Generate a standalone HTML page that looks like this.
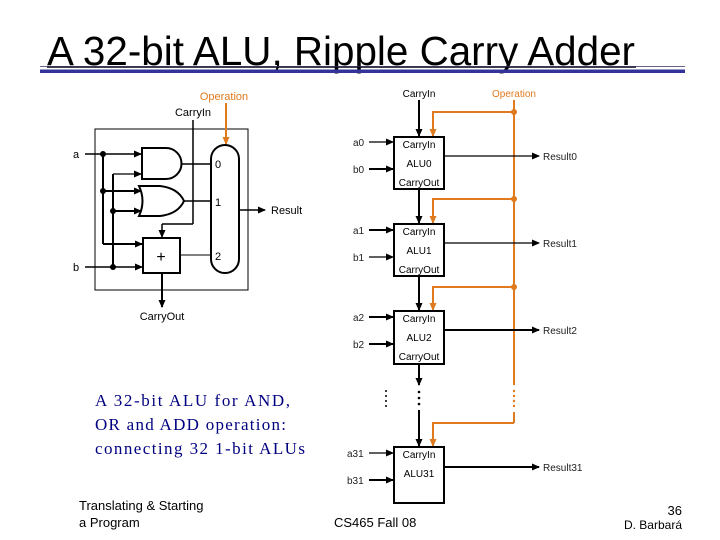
<!DOCTYPE html>
<html><head><style>
body{margin:0;background:#fff;}
svg{display:block;font-family:"Liberation Sans",Arial,sans-serif;}
</style></head><body>
<svg width="720" height="540" viewBox="0 0 720 540" xmlns="http://www.w3.org/2000/svg">
<defs>
<marker id="ar" markerWidth="8" markerHeight="8" refX="7" refY="4" orient="auto" markerUnits="userSpaceOnUse"><path d="M0,0.5 L8,4 L0,7.5z" fill="#000"/></marker>
<marker id="ao" markerWidth="8" markerHeight="8" refX="7" refY="4" orient="auto" markerUnits="userSpaceOnUse"><path d="M0,0.5 L8,4 L0,7.5z" fill="#e07a1f"/></marker>
</defs>
<text x="47" y="65" font-size="41" textLength="588" lengthAdjust="spacingAndGlyphs">A 32-bit ALU, Ripple Carry Adder</text>
<line x1="47" y1="67" x2="636" y2="67" stroke="#000" stroke-width="1.5"/>
<line x1="40" y1="66.5" x2="685" y2="66.5" stroke="#333366" stroke-width="0.8"/>
<rect x="40" y="69.5" width="645" height="3.5" fill="#333399"/>

<g stroke="#000" fill="none" stroke-width="1">
<rect x="95" y="129" width="153" height="161"/>
</g>
<text x="224" y="100" font-size="11" fill="#e07a1f" text-anchor="middle">Operation</text>
<text x="193" y="116" font-size="11" text-anchor="middle">CarryIn</text>
<line x1="226" y1="103" x2="226" y2="144" stroke="#e07a1f" stroke-width="2" marker-end="url(#ao)"/>
<text x="73" y="158" font-size="11">a</text>
<text x="73" y="271" font-size="11">b</text>
<g stroke="#000" stroke-width="2" fill="none">
<line x1="85" y1="154" x2="141" y2="154" stroke-width="1.5" marker-end="url(#ar)"/>
<line x1="103" y1="154" x2="103" y2="244"/>
<line x1="103" y1="191" x2="141" y2="191" marker-end="url(#ar)"/>
<line x1="103" y1="244" x2="142" y2="244" marker-end="url(#ar)"/>
<line x1="85" y1="267" x2="142" y2="267" stroke-width="1.5" marker-end="url(#ar)"/>
<line x1="113" y1="267" x2="113" y2="174"/>
<line x1="113" y1="174" x2="141" y2="174" stroke-width="1.2" marker-end="url(#ar)"/>
<line x1="113" y1="211" x2="141" y2="211" marker-end="url(#ar)"/>
<path d="M142,148 L166,148 A15.5,15.5 0 0 1 166,179 L142,179 Z" stroke-width="2"/>
<path d="M139,186 L160,186 Q178,188 184,201 Q178,214 160,216 L139,216 Q146,201 139,186 Z" stroke-width="2"/>
<rect x="143" y="238" width="37" height="35" stroke-width="2"/>
<line x1="182" y1="164" x2="211" y2="164" stroke-width="1.5"/>
<line x1="184" y1="201" x2="211" y2="201" stroke-width="1.5"/>
<line x1="180" y1="255" x2="211" y2="255" stroke-width="1"/>
<rect x="211" y="145" width="28" height="128" rx="14" stroke-width="2"/>
<line x1="193" y1="120" x2="193" y2="224" stroke-width="1.5"/>
<line x1="193" y1="224" x2="162" y2="224" stroke-width="1.5"/>
<line x1="162" y1="224" x2="162" y2="237" stroke-width="1.5" marker-end="url(#ar)"/>
<line x1="162" y1="273" x2="162" y2="307" marker-end="url(#ar)"/>
<line x1="239" y1="210" x2="265" y2="210" stroke-width="1.5" marker-end="url(#ar)"/>
</g>
<g fill="#000"><circle cx="103" cy="154" r="3"/><circle cx="103" cy="191" r="3"/><circle cx="113" cy="211" r="3"/><circle cx="113" cy="267" r="3"/></g>
<text x="161" y="262" font-size="16" text-anchor="middle">+</text>
<g font-size="11"><text x="215" y="168">0</text><text x="215" y="206">1</text><text x="215" y="260">2</text>
<text x="271" y="214">Result</text><text x="162" y="320" text-anchor="middle">CarryOut</text></g>

<text x="419" y="97" font-size="10" text-anchor="middle">CarryIn</text>
<text x="514" y="97" font-size="10" fill="#e07a1f" text-anchor="middle">Operation</text>
<g stroke="#e07a1f" stroke-width="2" fill="none">
<line x1="514" y1="100" x2="514" y2="385"/>
<line x1="514" y1="412" x2="514" y2="423"/>
<path d="M514,112 H433 V136" marker-end="url(#ao)"/>
<path d="M514,199 H433 V223" marker-end="url(#ao)"/>
<path d="M514,287 H433 V310" marker-end="url(#ao)"/>
<path d="M514,423 H433 V446" marker-end="url(#ao)"/>
</g>
<g fill="#e07a1f"><circle cx="514" cy="112" r="3"/><circle cx="514" cy="199" r="3"/><circle cx="514" cy="287" r="3"/>
<circle cx="514" cy="391" r="1.2"/><circle cx="514" cy="396" r="1.2"/><circle cx="514" cy="401" r="1.2"/><circle cx="514" cy="406" r="1.2"/></g>
<g stroke="#000" fill="#fff" stroke-width="2">
<rect x="394" y="137" width="50" height="52"/>
<rect x="394" y="224" width="50" height="52"/>
<rect x="394" y="311" width="50" height="53"/>
<rect x="394" y="447" width="50" height="56"/>
</g>
<g stroke="#000" stroke-width="2" fill="none">
<line x1="419" y1="100" x2="419" y2="136" marker-end="url(#ar)"/>
<line x1="419" y1="189" x2="419" y2="223" marker-end="url(#ar)"/>
<line x1="419" y1="276" x2="419" y2="310" marker-end="url(#ar)"/>
<line x1="419" y1="364" x2="419" y2="385" marker-end="url(#ar)"/>
<line x1="419" y1="410" x2="419" y2="446" marker-end="url(#ar)"/>
<g stroke-width="1.2">
<line x1="369" y1="142" x2="393" y2="142" marker-end="url(#ar)"/>
<line x1="369" y1="169" x2="393" y2="169" stroke-width="2" marker-end="url(#ar)"/>
<line x1="369" y1="230" x2="393" y2="230" stroke-width="2" marker-end="url(#ar)"/>
<line x1="369" y1="257" x2="393" y2="257" marker-end="url(#ar)"/>
<line x1="369" y1="317" x2="393" y2="317" stroke-width="2" marker-end="url(#ar)"/>
<line x1="369" y1="344" x2="393" y2="344" stroke-width="2" marker-end="url(#ar)"/>
<line x1="369" y1="453" x2="393" y2="453" marker-end="url(#ar)"/>
<line x1="369" y1="480" x2="393" y2="480" stroke-width="2" marker-end="url(#ar)"/>
<line x1="444" y1="156" x2="539" y2="156" marker-end="url(#ar)"/>
<line x1="444" y1="243" x2="539" y2="243" marker-end="url(#ar)"/>
<line x1="444" y1="330" x2="539" y2="330" stroke-width="2" marker-end="url(#ar)"/>
<line x1="444" y1="467" x2="539" y2="467" stroke-width="2" marker-end="url(#ar)"/>
</g></g>
<g fill="#000"><circle cx="386" cy="391" r="1"/><circle cx="386" cy="396" r="1"/><circle cx="386" cy="401" r="1"/><circle cx="386" cy="406" r="1"/><circle cx="419" cy="392" r="1.3"/><circle cx="419" cy="398" r="1.3"/><circle cx="419" cy="404" r="1.3"/></g>
<g font-size="10" text-anchor="middle">
<text x="419" y="148">CarryIn</text><text x="419" y="167">ALU0</text><text x="419" y="186">CarryOut</text>
<text x="419" y="235">CarryIn</text><text x="419" y="254">ALU1</text><text x="419" y="273">CarryOut</text>
<text x="419" y="322">CarryIn</text><text x="419" y="341">ALU2</text><text x="419" y="360">CarryOut</text>
<text x="419" y="458">CarryIn</text><text x="419" y="477">ALU31</text>
</g>
<g font-size="10" fill="#222">
<text x="353" y="146">a0</text><text x="353" y="173">b0</text>
<text x="353" y="234">a1</text><text x="353" y="261">b1</text>
<text x="353" y="321">a2</text><text x="353" y="348">b2</text>
<text x="347" y="457">a31</text><text x="347" y="484">b31</text>
<text x="543" y="160">Result0</text><text x="543" y="247">Result1</text><text x="543" y="334">Result2</text><text x="543" y="471">Result31</text>
</g>

<g font-family="Liberation Serif,serif" font-size="17" fill="#000080">
<text x="95" y="406" textLength="195" lengthAdjust="spacing">A 32-bit ALU for AND,</text>
<text x="95" y="430" textLength="191" lengthAdjust="spacing">OR and ADD operation:</text>
<text x="95" y="454" textLength="210" lengthAdjust="spacing">connecting 32 1-bit ALUs</text>
</g>
<g font-size="13">
<text x="79" y="510">Translating &amp; Starting</text>
<text x="79" y="527">a Program</text>
<text x="334" y="527">CS465 Fall 08</text>
<text x="682" y="515" text-anchor="end">36</text>
<text x="682" y="529" text-anchor="end" font-size="12">D. Barbará</text>
</g>
</svg>
</body></html>
